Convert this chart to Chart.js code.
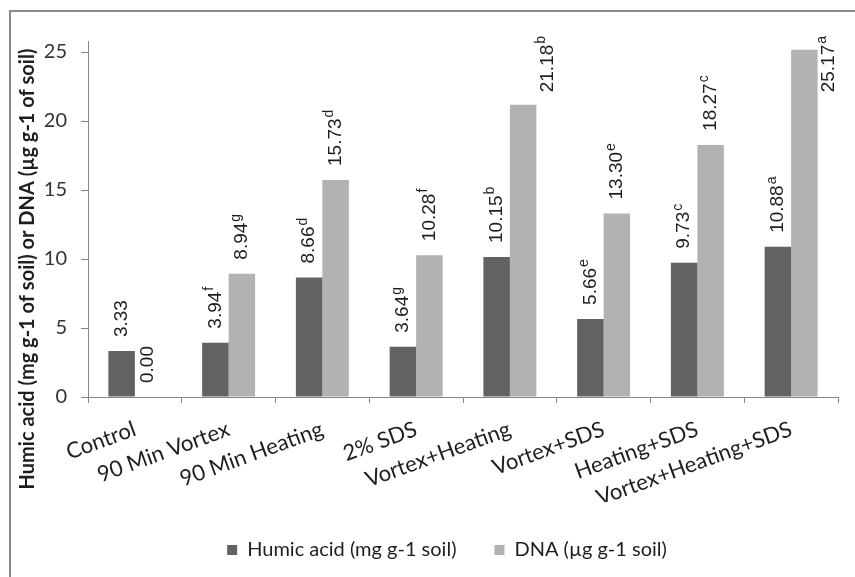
<!DOCTYPE html>
<html><head><meta charset="utf-8">
<script src="https://cdn.jsdelivr.net/npm/chart.js@4.4.1/dist/chart.umd.min.js"></script>
<style>
html,body{margin:0;padding:0;background:#fff;}
#wrap{position:relative;width:855px;height:577px;overflow:hidden;}
#frame{position:absolute;left:9px;top:10px;width:900px;height:700px;border-left:2px solid #8c8c8c;border-top:2px solid #8c8c8c;}
#c{position:absolute;left:0;top:0;}
</style></head><body>
<div id="wrap"><div id="frame"></div><canvas id="c" width="855" height="577"></canvas></div>
<script>
const categories = ['Control','90 Min Vortex','90 Min Heating','2% SDS','Vortex+Heating','Vortex+SDS','Heating+SDS','Vortex+Heating+SDS'];
const humicAcid = [3.33, 3.94, 8.66, 3.64, 10.15, 5.66, 9.73, 10.88];
const humicLetters = ['', 'f', 'd', 'g', 'b', 'e', 'c', 'a'];
const dnaValues = [0.00, 8.94, 15.73, 10.28, 21.18, 13.30, 18.27, 25.17];
const dnaLetters = ['', 'g', 'd', 'f', 'b', 'e', 'c', 'a'];
const yTicks = [0, 5, 10, 15, 20, 25];
const yTitle = 'Humic acid (mg g-1 of soil) or DNA (\u00b5g g-1 of soil)';
const seriesNames = ['Humic acid (mg g-1 soil)', 'DNA (\u00b5g g-1 soil)'];

const AXIS = '#868686';
const TXT = '#1e1e1e';
const LABEL_FONT = '19px "Liberation Sans"';
const SUP_FONT = '14px "Liberation Sans"';

const labelPlugin = {
  id: 'barLabels',
  afterDatasetsDraw(chart) {
    const ctx = chart.ctx;
    const letters = [humicLetters, dnaLetters];
    chart.data.datasets.forEach((ds, di) => {
      const meta = chart.getDatasetMeta(di);
      meta.data.forEach((bar, i) => {
        const main = ds.data[i].toFixed(2);
        const sup = letters[di][i];
        ctx.save();
        ctx.font = LABEL_FONT;
        const w1 = ctx.measureText(main).width;
        ctx.font = SUP_FONT;
        const w2 = sup ? ctx.measureText(sup).width + 1 : 0;
        const total = w1 + w2;
        let x = bar.x, bottom = bar.y - 14;
        const minTop = 36;
        if (bottom - total < minTop) {
          x = bar.x + bar.width / 2 + 11;
          bottom = minTop + total;
        }
        ctx.translate(x, bottom);
        ctx.rotate(-Math.PI / 2);
        ctx.fillStyle = TXT;
        ctx.textBaseline = 'middle';
        ctx.textAlign = 'left';
        ctx.font = LABEL_FONT;
        ctx.fillText(main, 0, 0);
        if (sup) { ctx.font = SUP_FONT; ctx.fillText(sup, w1 + 1, -6); }
        ctx.restore();
      });
    });
  }
};

const titlePlugin = {
  id: 'yTitle',
  afterLayout(chart) {
    if (chart.legend) { chart.legend.left += 28; chart.legend.right += 28; }
  },
  afterDraw(chart) {
    const ctx = chart.ctx;
    ctx.save();
    ctx.translate(28, 269);
    ctx.rotate(-Math.PI / 2);
    ctx.font = 'bold 20px Lato';
    ctx.fillStyle = TXT;
    ctx.textAlign = 'center';
    ctx.textBaseline = 'middle';
    ctx.fillText(yTitle, 0, 0);
    ctx.restore();
  }
};

new Chart(document.getElementById('c'), {
  type: 'bar',
  data: {
    labels: categories,
    datasets: [
      { label: seriesNames[0], data: humicAcid, backgroundColor: '#626262', borderWidth: 0, categoryPercentage: 0.565, barPercentage: 1.0 },
      { label: seriesNames[1], data: dnaValues, backgroundColor: '#b2b2b2', borderWidth: 0, categoryPercentage: 0.565, barPercentage: 1.0 }
    ]
  },
  options: {
    responsive: false,
    animation: false,
    layout: { padding: { left: 0, right: 17, top: 41, bottom: 7 } },
    plugins: {
      legend: {
        position: 'bottom',
        labels: { font: { family: 'Lato', size: 20 }, color: TXT, boxWidth: 10, boxHeight: 10, padding: 38 }
      },
      tooltip: { enabled: false }
    },
    scales: {
      x: {
        grid: { display: true, drawOnChartArea: false, drawTicks: true, tickLength: 6, color: AXIS, offset: true },
        border: { color: AXIS },
        ticks: { font: { family: 'Lato', size: 22 }, color: TXT, minRotation: 20, maxRotation: 20, autoSkip: false, padding: 13 },
        afterFit(s) { s.height = 105; }
      },
      y: {
        min: 0, max: 25.8,
        grid: { drawOnChartArea: false, drawTicks: true, tickLength: 7, color: AXIS },
        border: { color: AXIS },
        ticks: { font: { family: 'Lato', size: 20 }, color: '#333', padding: 14 },
        afterBuildTicks(s) { s.ticks = yTicks.map(v => ({ value: v })); },
        afterFit(s) { s.width = 88; }
      }
    }
  },
  plugins: [labelPlugin, titlePlugin]
});
</script>
</body></html>
